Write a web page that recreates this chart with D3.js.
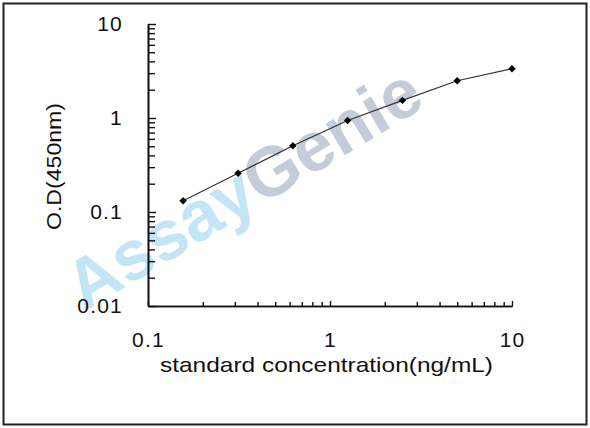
<!DOCTYPE html>
<html>
<head>
<meta charset="utf-8">
<script src="https://cdn.jsdelivr.net/npm/d3@7"></script>
<style>
  body { margin: 0; background: #fff; }
  svg text { font-family: "Liberation Sans", Arial, sans-serif; }
</style>
</head>
<body>
<div id="chart"></div>
<script>
// standard curve
const concentration = [0.156, 0.3125, 0.625, 1.25, 2.5, 5, 10]
const odValues = [0.132, 0.258, 0.507, 0.94, 1.54, 2.49, 3.35]
const xMajorTicks = [0.1, 1, 10]
const yMajorTicks = [0.01, 0.1, 1, 10]
const xTickLabels = ['0.1', '1', '10']
const yTickLabels = ['0.01', '0.1', '1', '10']
const xTitle = 'standard concentration(ng/mL)'
const yTitle = 'O.D(450nm)'

window.addEventListener('load', function () {
  const width = 590, height = 428
  const left = 148, right = 512, top = 24, bottom = 306

  const svg = d3.select('#chart').append('svg')
      .attr('width', width)
      .attr('height', height)

  // outer frame
  svg.append('rect')
      .attr('x', 3.5).attr('y', 3.5)
      .attr('width', 583).attr('height', 421)
      .attr('fill', '#fff')
      .attr('stroke', '#222')
      .attr('stroke-width', 2)

  // watermark
  const wm = svg.append('text')
      .attr('transform', 'translate(84,312) rotate(-31)')
      .attr('font-size', 70)
      .attr('font-weight', 'bold')
  wm.append('tspan').attr('fill', '#c4e5f5').text('Assay')
  wm.append('tspan').attr('fill', '#c3ccd8').text('Genie')

  const x = d3.scaleLog().domain([0.1, 10]).range([left, right])
  const y = d3.scaleLog().domain([0.01, 10]).range([bottom, top])

  // minor ticks every integer step inside each decade
  const minor = d => {
    const out = []
    for (let e = d[0]; e < d[1]; e++) {
      for (let k = 2; k <= 9; k++) out.push(k * Math.pow(10, e))
    }
    return out
  }

  svg.append('g')
      .attr('transform', 'translate(0,' + bottom + ')')
      .call(d3.axisBottom(x).tickValues(minor([-1, 1])).tickSizeInner(-4).tickSizeOuter(0).tickFormat(''))
  svg.append('g')
      .attr('transform', 'translate(0,' + bottom + ')')
      .call(d3.axisBottom(x).tickValues(xMajorTicks).tickSizeInner(-5).tickSizeOuter(0)
        .tickPadding(26).tickFormat((d, i) => xTickLabels[i]))

  svg.append('g')
      .attr('transform', 'translate(' + left + ',0)')
      .call(d3.axisLeft(y).tickValues(minor([-2, 1])).tickSizeInner(-7).tickSizeOuter(0).tickFormat(''))
  svg.append('g')
      .attr('transform', 'translate(' + left + ',0)')
      .call(d3.axisLeft(y).tickValues(yMajorTicks).tickSizeInner(-8).tickSizeOuter(0)
        .tickPadding(25).tickFormat((d, i) => yTickLabels[i]))

  svg.selectAll('.domain').attr('stroke', '#111').attr('stroke-width', 1.6)
  svg.selectAll('.tick line').attr('stroke', '#111').attr('stroke-width', 1.4)
  svg.selectAll('.tick text')
      .attr('font-size', 21)
      .attr('letter-spacing', 1.2)
      .attr('fill', '#111')
      .attr('font-family', '"Liberation Sans", Arial, sans-serif')

  // axis titles
  svg.append('text')
      .attr('x', 160).attr('y', 372)
      .attr('font-size', 21)
      .attr('fill', '#111')
      .attr('textLength', 333)
      .attr('lengthAdjust', 'spacingAndGlyphs')
      .text(xTitle)

  svg.append('text')
      .attr('transform', 'translate(61,230) rotate(-90)')
      .attr('font-size', 21)
      .attr('fill', '#111')
      .attr('textLength', 127)
      .attr('lengthAdjust', 'spacingAndGlyphs')
      .text(yTitle)

  const data = concentration.map((c, i) => ({ x: c, y: odValues[i] }))

  const line = d3.line()
      .x(d => x(d.x))
      .y(d => y(d.y))

  svg.append('path')
      .datum(data)
      .attr('d', line)
      .attr('fill', 'none')
      .attr('stroke', '#333')
      .attr('stroke-width', 1.2)

  svg.selectAll('.point')
      .data(data)
    .enter().append('path')
      .attr('class', 'point')
      .attr('d', d3.symbol(d3.symbolSquare, 28))
      .attr('transform', d => 'translate(' + x(d.x) + ',' + y(d.y) + ') rotate(45)')
      .attr('fill', '#000')
})
</script>
</body>
</html>
